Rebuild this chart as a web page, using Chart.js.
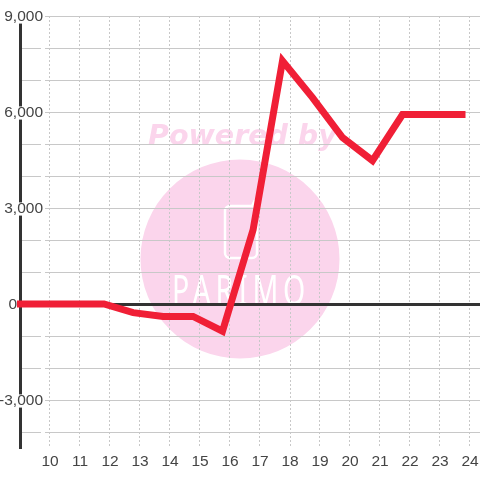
<!DOCTYPE html>
<html>
<head>
<meta charset="utf-8">
<style>
    html, body { margin: 0; padding: 0; background: #fff; }
    canvas { display: block; }
</style>
<script src="https://cdn.jsdelivr.net/npm/chart.js@4"></script>
</head>
<body>
<canvas id="chart" width="480" height="480"></canvas>
<script>
const hours = [8.9, 9.8, 10.8, 11.8, 12.77, 13.77, 14.77, 15.75, 16.77, 17.75, 18.75, 19.75, 20.75, 21.75, 22.8, 23.85];
const values = [0, 0, 0, 0, -270, -390, -390, -850, 2320, 7600, 6450, 5200, 4480, 5920, 5920, 5920];
const xTicks = [10, 11, 12, 13, 14, 15, 16, 17, 18, 19, 20, 21, 22, 23, 24];
const yTicks = [-4000, -3000, -2000, -1000, 0, 1000, 2000, 3000, 4000, 5000, 6000, 7000, 8000, 9000];
const watermarkTop = 'Powered by';
const watermarkName = 'PARIMO';

const watermark = {
    id: 'watermark',
    beforeDraw(chart) {
        const ctx = chart.ctx;
        ctx.save();
        ctx.fillStyle = '#fbd5ec';
        ctx.beginPath();
        ctx.arc(240, 259, 99.5, 0, Math.PI * 2);
        ctx.fill();

        ctx.strokeStyle = '#fff';
        ctx.lineWidth = 2.5;
        ctx.beginPath();
        ctx.roundRect(225, 206, 32, 52, 5);
        ctx.moveTo(252, 206);
        ctx.lineTo(255, 200);
        ctx.stroke();

        ctx.fillStyle = '#fff';
        ctx.font = '400 42px "Noto Sans"';
        ctx.letterSpacing = '7px';
        ctx.textAlign = 'left';
        ctx.textBaseline = 'alphabetic';
        ctx.fillText(watermarkName, 172, 305, 138);

        ctx.fillStyle = '#fbd5ec';
        ctx.font = 'italic bold 28.5px "DejaVu Sans"';
        ctx.letterSpacing = '0px';
        ctx.fillText(watermarkTop, 148, 145);
        ctx.restore();
    }
};

new Chart(document.getElementById('chart').getContext('2d'), {
    type: 'line',
    plugins: [watermark],
    data: {
        datasets: [{
            data: hours.map((h, i) => ({ x: h, y: values[i] })),
            borderColor: '#f01f36',
            borderWidth: 7,
            pointRadius: 0,
            tension: 0,
            clip: false
        }]
    },
    options: {
        responsive: false,
        animation: false,
        layout: { padding: { top: 16 } },
        plugins: { legend: { display: false }, tooltip: { enabled: false } },
        scales: {
            x: {
                type: 'linear',
                min: 9,
                max: 9 + 460 / 30,
                afterFit(scale) {
                    scale.height = 32;
                    scale.paddingLeft = 0;
                    scale.paddingRight = 0;
                },
                afterBuildTicks(scale) { scale.ticks = xTicks.map(v => ({ value: v })); },
                border: { display: false, dash: [2, 2] },
                grid: { color: '#c8c8c8', lineWidth: 1, drawTicks: false },
                ticks: {
                    autoSkip: false,
                    maxRotation: 0,
                    padding: 4,
                    color: '#444',
                    font: { family: '"Liberation Sans"', size: 15.5 },
                    callback: v => String(v)
                }
            },
            y: {
                min: -4500,
                max: 9000,
                afterFit(scale) {
                    scale.width = 20;
                    // labels sit over the plot, so don't clip them to the axis box
                    scale._computeLabelArea = () => undefined;
                },
                afterBuildTicks(scale) { scale.ticks = yTicks.map(v => ({ value: v })); },
                border: { display: true, color: '#333', width: 3 },
                grid: {
                    drawTicks: false,
                    color: ctx => ctx.tick.value === 0 ? '#333' : '#c8c8c8',
                    lineWidth: ctx => ctx.tick.value === 0 ? 3 : 1
                },
                ticks: {
                    autoSkip: false,
                    padding: -23,
                    labelOffset: 1,
                    color: '#444',
                    font: { family: '"Liberation Sans"', size: 15.5, lineHeight: 0.85 },
                    showLabelBackdrop: true,
                    backdropColor: ctx => ctx.tick.value === 0 ? 'transparent' : '#fff',
                    backdropPadding: { x: 2, y: 0 },
                    // the zero label sits left of the axis, trailing figure spaces push it there
                    callback: v => v === 0 ? '0\u2007\u2007\u2007' : v % 3000 === 0 ? v.toLocaleString('en-US') : ''
                }
            }
        }
    }
});
</script>
</body>
</html>
